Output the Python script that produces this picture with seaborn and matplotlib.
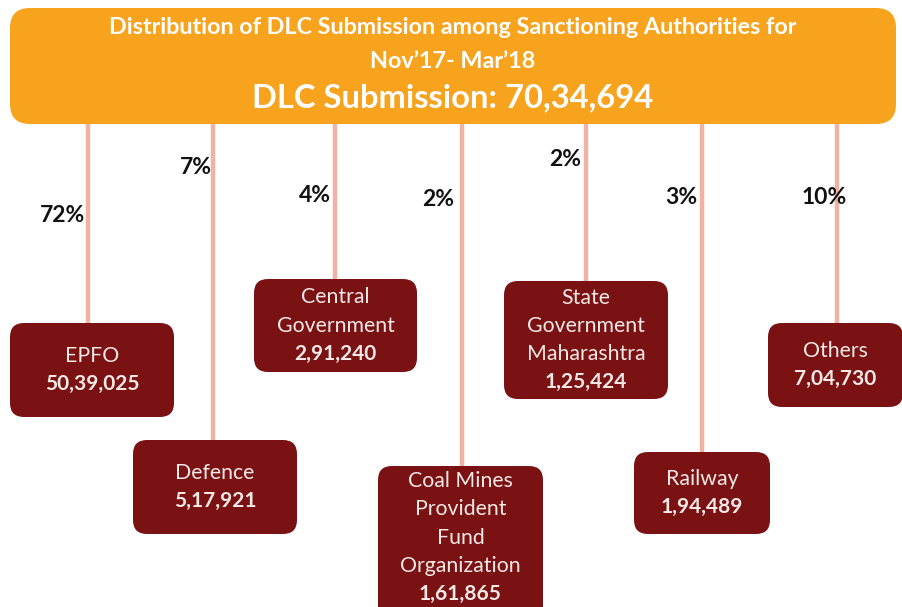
import matplotlib
matplotlib.use("Agg")
import matplotlib.pyplot as plt
from matplotlib.patches import FancyBboxPatch
import seaborn as sns
import pandas as pd

# ---------------- data ----------------
title_line1 = "Distribution of DLC Submission among Sanctioning Authorities for"
title_line2 = "Nov\u201917- Mar\u201918"
total_label = "DLC Submission: 70,34,694"

categories = ["EPFO", "Defence", "Central\nGovernment", "Coal Mines\nProvident\nFund\nOrganization",
              "State\nGovernment\nMaharashtra", "Railway", "Others"]
values = ["50,39,025", "5,17,921", "2,91,240", "1,61,865", "1,25,424", "1,94,489", "7,04,730"]
percents = ["72%", "7%", "4%", "2%", "2%", "3%", "10%"]

# ---------------- layout (pixels, y downward) ----------------
line_x = [88, 213, 335, 462, 586, 702, 837]
box_left = [10, 133, 254, 378, 504, 634, 768]
box_right = [174, 297, 417, 543, 668, 770, 903]
box_top = [323, 440, 279, 466, 281, 452, 323]
box_bottom = [417, 534, 372, 625, 399, 534, 407]
pct_xy = [(63, 215), (196, 167), (315, 196), (438, 200), (565, 159), (681, 197), (824, 198)]

HEADER = "#F7A31D"
MAROON = "#7A1214"
PINK = "#EFB2A3"
BOXTXT = "#F6E9E6"

sns.set_theme(style="white")
plt.rcParams["font.family"] = ["Lato", "DejaVu Sans"]

fig = plt.figure(figsize=(9.03, 6.07), dpi=100)
ax = fig.add_axes([0, 0, 1, 1])

# connectors via seaborn
rows = []
for i, c in enumerate(categories):
    rows.append({"cat": i, "x": line_x[i], "y": 115})
    rows.append({"cat": i, "x": line_x[i], "y": box_top[i] + 2})
df = pd.DataFrame(rows)
sns.lineplot(data=df, x="x", y="y", units="cat", estimator=None, color=PINK,
             lw=3.2, ax=ax, sort=False, zorder=1, legend=False)
ax.set_xlim(0, 903)
ax.set_ylim(607, 0)
ax.axis("off")

# header
hdr = FancyBboxPatch((10, 8), 886, 116, boxstyle="round,pad=0,rounding_size=20",
                     fc=HEADER, ec="none", zorder=3)
ax.add_patch(hdr)
ax.text(453, 27, title_line1, ha="center", va="center", color="white",
        fontsize=16.8, fontweight="bold", zorder=4)
ax.text(453, 61, title_line2, ha="center", va="center", color="white",
        fontsize=16.8, fontweight="bold", zorder=4)
ax.text(453, 98, total_label, ha="center", va="center", color="white",
        fontsize=23.6, fontweight="bold", zorder=4)

# boxes
for i, c in enumerate(categories):
    l, r, t, b = box_left[i], box_right[i], box_top[i], box_bottom[i]
    p = FancyBboxPatch((l, t), r - l, b - t, boxstyle="round,pad=0,rounding_size=14",
                       fc=MAROON, ec="none", zorder=3)
    ax.add_patch(p)
    lines = c.split("\n")
    n = len(lines) + 1
    spacing = 28.3
    cx = (l + r) / 2
    if i == 3:
        y0 = 481
    else:
        cy = (t + min(b, 607)) / 2
        y0 = cy - spacing * (n - 1) / 2
    for k, ln in enumerate(lines):
        ax.text(cx, y0 + k * spacing, ln, ha="center", va="center", color=BOXTXT,
                fontsize=15.3, zorder=4)
    ax.text(cx, y0 + len(lines) * spacing, values[i], ha="center", va="center",
            color=BOXTXT, fontsize=15, fontweight="bold", zorder=4)

# percent labels
for i, p in enumerate(percents):
    x, y = pct_xy[i]
    ax.text(x, y, p, ha="center", va="center", color="#111111", fontsize=16.5,
            fontweight="bold", zorder=5)

fig.savefig("out.png", dpi=100, facecolor="white")
